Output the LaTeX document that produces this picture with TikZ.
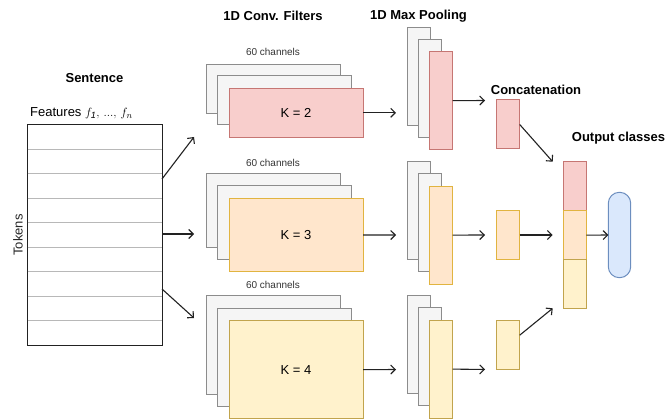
\documentclass[tikz,border=0pt]{standalone}
\usepackage{fontspec}
\setmainfont{Liberation Sans}
\usetikzlibrary{arrows.meta,calc}
\definecolor{grayF}{HTML}{F5F5F5}\definecolor{grayS}{HTML}{666666}
\definecolor{redF}{HTML}{F8CECC}\definecolor{redS}{HTML}{B85450}
\definecolor{orF}{HTML}{FFE6CC}\definecolor{orS}{HTML}{D79B00}
\definecolor{yeF}{HTML}{FFF2CC}\definecolor{yeS}{HTML}{D6B656}
\definecolor{blF}{HTML}{DAE8FC}\definecolor{blS}{HTML}{6C8EBF}
\definecolor{arr}{HTML}{222222}
\begin{document}
\begin{tikzpicture}[x=1pt,y=-1pt,
  box/.style={rectangle,inner sep=0,outer sep=0,anchor=north west,line width=1pt},
  gbox/.style={box,draw=grayS!75,fill=grayF},
  rbox/.style={box,draw=redS!80,fill=redF},
  obox/.style={box,draw=orS!75,fill=orF},
  ybox/.style={box,draw=yeS!90!black,fill=yeF},
  title/.style={font=\fontsize{13}{15}\selectfont\bfseries,inner sep=0},
  small/.style={font=\fontsize{10}{12}\selectfont,inner sep=0,text=black!80},
  klabel/.style={font=\fontsize{13}{15}\selectfont},
  conn/.style={draw=arr,line width=1.1pt,-{Straight Barb[length=4.5pt,width=9pt,line width=1.1pt]}}
]
\useasboundingbox (0,0) rectangle (666,419);
% titles
\node[title] (tSent) at (94.5,78) {Sentence};
\node[title] (tConv) at (273,16) {1D Conv. Filters};
\node[title] (tPool) at (418.5,16) {1D Max Pooling};
\node[title] (tCat) at (536,90) {Concatenation};
\node[title] (tOut) at (618.5,138.5) {Output classes};
% sentence table
\node[font=\fontsize{13}{15}\selectfont,inner sep=0,anchor=west] (feat) at (30,113) {Features $f_{\mathit{1}},\, ...,\, f_n$};
\node[font=\fontsize{13}{15}\selectfont,inner sep=0,rotate=90,text=black!85] (tok) at (18,235) {Tokens};
\node[box,draw=arr,minimum width=135,minimum height=220] (tbl) at (27,125) {};
\foreach \i in {1,...,8}{
  \draw[black!28,line width=1pt] ($(tbl.north west)+(0.5,24.44*\i)$) -- ($(tbl.north east)+(-0.5,24.44*\i)$);
}
% conv group 1
\node[small] (ch1) at (273,52) {60 channels};
\node[gbox,minimum width=134,minimum height=49] (c1a) at (206,64.3) {};
\node[gbox,minimum width=134,minimum height=49] (c1b) at (217.5,76) {};
\node[rbox,minimum width=134,minimum height=49,klabel] (c1c) at (229,88.3) {K = 2};
% conv group 2
\node[small] (ch2) at (273,163.3) {60 channels};
\node[gbox,minimum width=134,minimum height=73.5] (c2a) at (206,174) {};
\node[gbox,minimum width=134,minimum height=73.5] (c2b) at (217.5,186) {};
\node[obox,minimum width=134,minimum height=73.5,klabel] (c2c) at (229,198.3) {K = 3};
% conv group 3
\node[small] (ch3) at (273,285) {60 channels};
\node[gbox,minimum width=134,minimum height=98] (c3a) at (206,296) {};
\node[gbox,minimum width=134,minimum height=98] (c3b) at (217.5,308.3) {};
\node[ybox,minimum width=134,minimum height=98,klabel] (c3c) at (229,320.7) {K = 4};
% pooling
\foreach \g/\y/\s in {1/27.3/rbox,2/161.7/obox,3/295.7/ybox}{
  \node[gbox,minimum width=23,minimum height=98] (p\g a) at (407.3,\y) {};
  \node[gbox,minimum width=23,minimum height=98] (p\g b) at (418.7,\y+12.2) {};
  \node[\s,minimum width=23,minimum height=98] (p\g c) at (429.6,\y+24.4) {};
}
% concat
\node[rbox,minimum width=23,minimum height=49] (k1) at (496.7,100) {};
\node[obox,minimum width=23,minimum height=49] (k2) at (496.7,210.5) {};
\node[ybox,minimum width=23,minimum height=49] (k3) at (496.7,320.7) {};
% stack
\node[rbox,minimum width=23,minimum height=49.3] (s1) at (563.3,161.7) {};
\node[obox,minimum width=23,minimum height=48.3] (s2) at (563.3,211) {};
\node[ybox,minimum width=23,minimum height=49] (s3) at (563.3,259.3) {};
% output
\node[box,draw=blS,fill=blF,minimum width=22.4,minimum height=85.4,rounded corners=11] (out) at (608.3,192.3) {};
% coordinates for free ends
\coordinate (e1) at (194,137);
\coordinate (e2) at (194,234);
\coordinate (e3) at (194,318);
\coordinate (q1) at (396,112.8);
\coordinate (q2) at (396,235);
\coordinate (q3) at (396,369.5);
\coordinate (r1) at (485,100.5);
\coordinate (r2) at (485,235);
\coordinate (r3) at (485,369.5);
\coordinate (u1) at (552.7,161.7);
\coordinate (u2) at (552.7,235);
\coordinate (u3) at (552.7,308.3);
% connectors
\draw[conn] ($(tbl.north east)+(0,54)$) -- (e1);
\draw[conn] ($(tbl.north east)+(0,109)$) -- (e2);
\draw[conn] ($(tbl.north east)+(0,164)$) -- (e3);
\draw[conn] (c1c.east) -- (q1);
\draw[conn] (c2c.east) -- (q2);
\draw[conn] (c3c.east) -- (q3);
\draw[conn] (p1c.east) -- (r1);
\draw[conn] (p2c.east) -- (r2);
\draw[conn] (p3c.east) -- (r3);
\draw[conn] (k1.east) -- (u1);
\draw[conn] (k2.east) -- (u2);
\draw[conn] ($(k3.north east)+(0,14.5)$) -- (u3);
\draw[conn] (s2.east) -- (out.west);
\end{tikzpicture}
\end{document}
